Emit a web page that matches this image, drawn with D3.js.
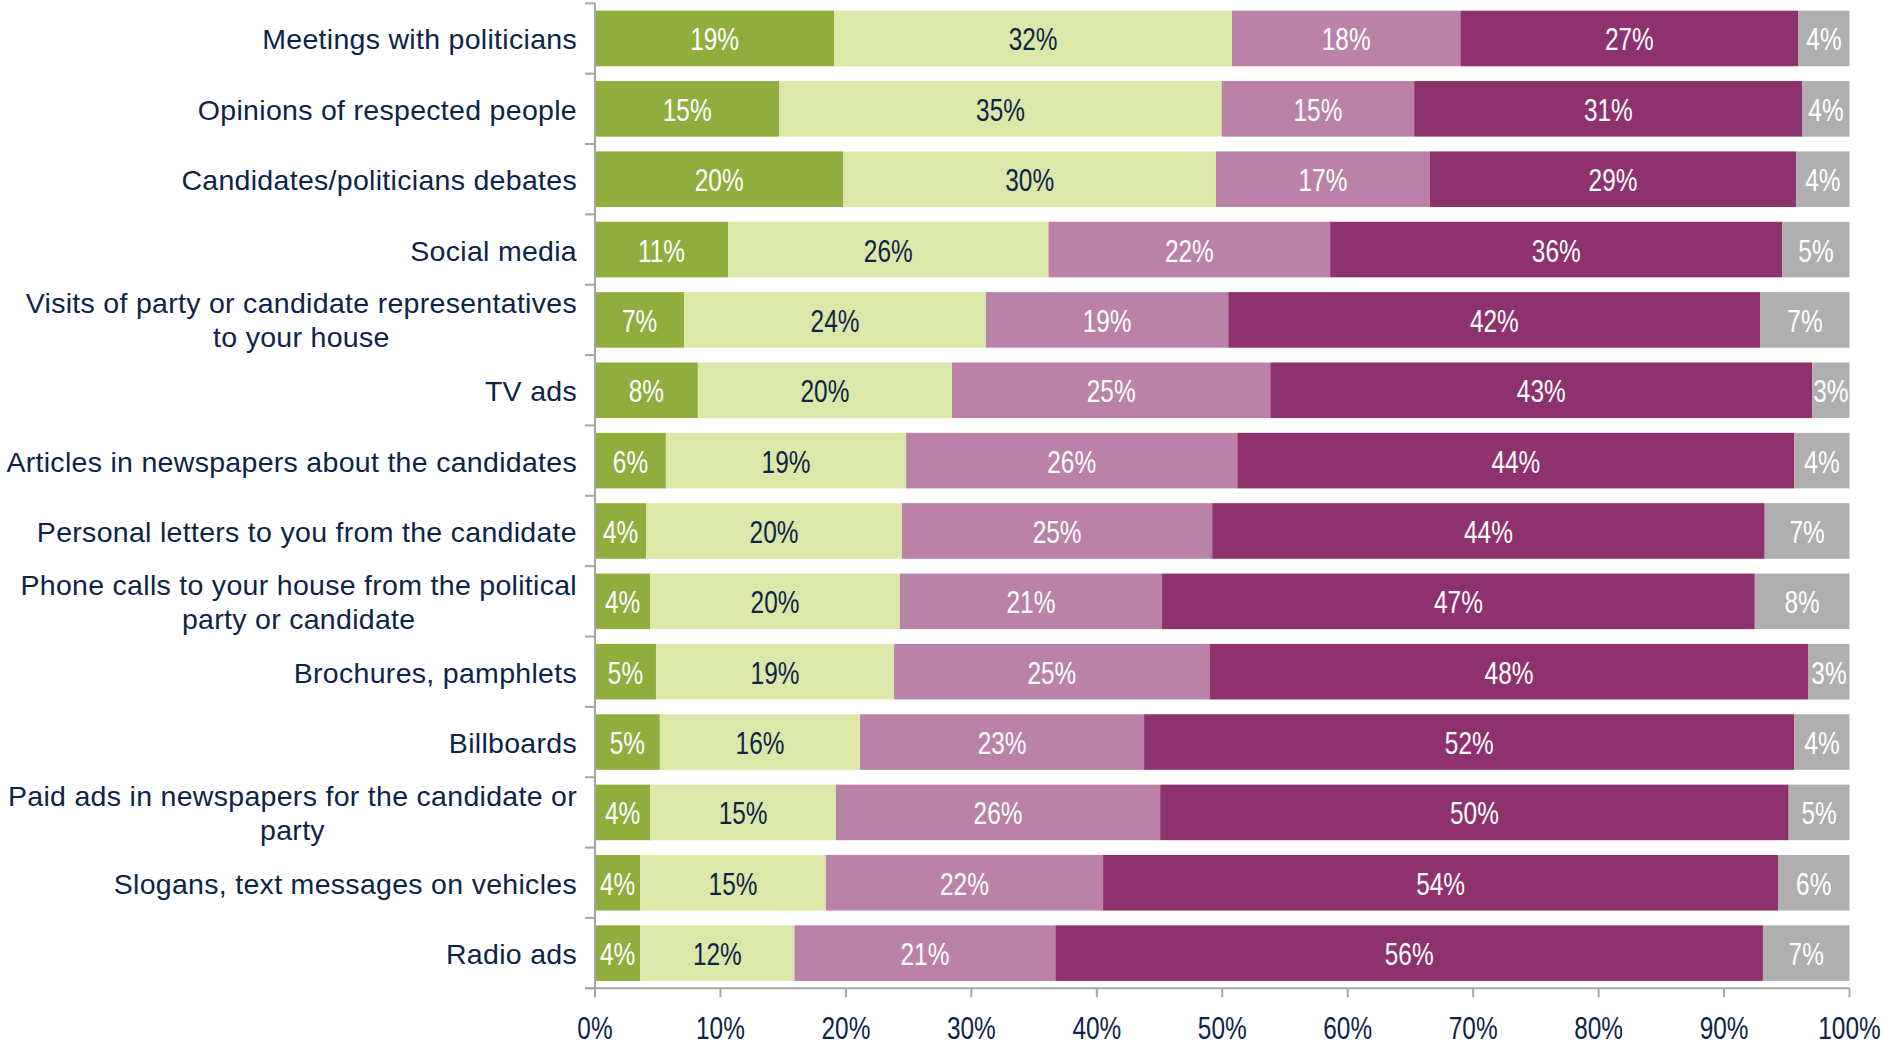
<!DOCTYPE html>
<html>
<head>
<meta charset="utf-8">
<script src="https://cdn.jsdelivr.net/npm/d3@7/dist/d3.min.js"></script>
<style>
  html, body { margin: 0; padding: 0; background: #ffffff; overflow: hidden; }
  svg { display: block; }
</style>
</head>
<body>
<svg id="chart" width="1893" height="1045"></svg>
<script>
// ---------- data ----------
const categories = [
  "Meetings with politicians",
  "Opinions of respected people",
  "Candidates/politicians debates",
  "Social media",
  "Visits of party or candidate representatives\nto your house",
  "TV ads",
  "Articles in newspapers about the candidates",
  "Personal letters to you from the candidate",
  "Phone calls to your house from the political\nparty or candidate",
  "Brochures, pamphlets",
  "Billboards",
  "Paid ads in newspapers for the candidate or\nparty",
  "Slogans, text messages on vehicles",
  "Radio ads"
];
const seriesNames = ["Very influential", "Somewhat influential", "Not very influential", "Not at all influential", "Don't know"];
const veryInfluential     = [19.06, 14.7, 19.8, 10.6, 7.1, 8.2, 5.65, 4.07, 4.4, 4.86, 5.17, 4.4, 3.6, 3.6];
const somewhatInfluential = [31.72, 35.25, 29.7, 25.55, 24.06, 20.26, 19.15, 20.4, 19.9, 18.98, 15.96, 14.8, 14.8, 12.3];
const notVeryInfluential  = [18.2, 15.35, 17.05, 22.45, 19.32, 25.37, 26.4, 24.73, 20.9, 25.15, 22.64, 25.85, 22.1, 20.8];
const notAtAllInfluential = [26.95, 30.95, 29.2, 36.05, 42.42, 43.2, 44.41, 44.04, 47.25, 47.74, 51.84, 50.1, 53.8, 56.4];
const dontKnow            = [4.07, 3.75, 4.25, 5.35, 7.1, 2.97, 4.39, 6.76, 7.55, 3.27, 4.39, 4.85, 5.7, 6.9];
const xTicks = [0, 10, 20, 30, 40, 50, 60, 70, 80, 90, 100];

const seriesValues = [veryInfluential, somewhatInfluential, notVeryInfluential, notAtAllInfluential, dontKnow];
const seriesColors = ["#8fae3e", "#dce8a9", "#bb82a8", "#8e326d", "#afafaf"];
const labelColors  = ["#ffffff", "#0e2447", "#ffffff", "#ffffff", "#ffffff"];

// ---------- layout ----------
const svg = d3.select("#chart");
const plotLeft = 595, plotRight = 1849.5, plotTop = 3.3, plotBottom = 988.3;
const textColor = "#0e2447";
const axisColor = "#a6a6a6";
const numFont = "'Liberation Sans', Arial, sans-serif";
const catFont = "'Liberation Sans', Arial, sans-serif";
const narrow = 0.8; // horizontal condensation of number labels

const x = d3.scaleLinear().domain([0, 100]).range([plotLeft, plotRight]);
const y = d3.scaleBand().domain(categories).range([plotTop, plotBottom]).paddingInner(0.21).paddingOuter(0.105);

// stacked data
const rows = categories.map((c, i) => {
  const o = { category: c };
  seriesNames.forEach((s, k) => { o[s] = seriesValues[k][i]; });
  return o;
});
const stacked = d3.stack().keys(seriesNames)(rows);

const g = svg.append("g");
stacked.forEach((layer, k) => {
  const lg = g.append("g");
  lg.selectAll("rect").data(layer).join("rect")
    .attr("x", d => x(d[0]))
    .attr("y", d => y(d.data.category))
    .attr("width", d => x(d[1]) - x(d[0]))
    .attr("height", y.bandwidth())
    .attr("fill", seriesColors[k]);
  lg.selectAll("text").data(layer).join("text")
    .attr("transform", d => `translate(${(x(d[0]) + x(d[1])) / 2},${y(d.data.category) + y.bandwidth() / 2 + 12}) scale(${narrow},1)`)
    .attr("text-anchor", "middle")
    .attr("font-family", numFont)
    .attr("font-size", 30.5)
    .attr("fill", labelColors[k])
    .text(d => Math.round(d[1] - d[0]) + "%");
});

// ---------- axes ----------
const ax = svg.append("g").attr("stroke", axisColor).attr("stroke-width", 2);
ax.append("line").attr("x1", plotLeft).attr("x2", plotLeft).attr("y1", plotTop).attr("y2", plotBottom + 9);
const boundaries = d3.range(categories.length + 1).map(i => plotTop + i * y.step());
ax.selectAll("line.yt").data(boundaries).join("line").attr("class", "yt")
  .attr("x1", plotLeft - 10).attr("x2", plotLeft).attr("y1", d => d).attr("y2", d => d);
ax.append("line").attr("x1", plotLeft - 10).attr("x2", plotRight).attr("y1", plotBottom).attr("y2", plotBottom);
ax.selectAll("line.xt").data(xTicks).join("line").attr("class", "xt")
  .attr("x1", d => x(d)).attr("x2", d => x(d)).attr("y1", plotBottom).attr("y2", plotBottom + 9);

// x tick labels
svg.append("g").selectAll("text").data(xTicks).join("text")
  .attr("transform", d => `translate(${x(d)},1039) scale(${narrow},1)`)
  .attr("text-anchor", "middle")
  .attr("font-family", numFont)
  .attr("font-size", 30.5)
  .attr("fill", textColor)
  .text(d => d + "%");

// category labels
const catG = svg.append("g");
const labelRight = 577;
categories.forEach(c => {
  const lines = c.split("\n");
  const cy = y(c) + y.bandwidth() / 2;
  const lh = 34;
  const t = catG.append("text")
    .attr("font-family", catFont)
    .attr("font-size", 28.5)
    .attr("letter-spacing", "0.3px")
    .attr("fill", textColor);
  if (lines.length === 1) {
    t.attr("x", labelRight).attr("y", cy + 11).attr("text-anchor", "end").text(c);
  } else {
    const spans = lines.map((ln, j) => t.append("tspan").text(ln)
      .attr("y", cy + 10.5 + (j - (lines.length - 1) / 2) * lh));
    const maxW = d3.max(spans, s => s.node().getComputedTextLength());
    const cx = labelRight - maxW / 2;
    t.attr("text-anchor", "middle");
    spans.forEach(s => s.attr("x", cx));
  }
});
</script>
</body>
</html>
